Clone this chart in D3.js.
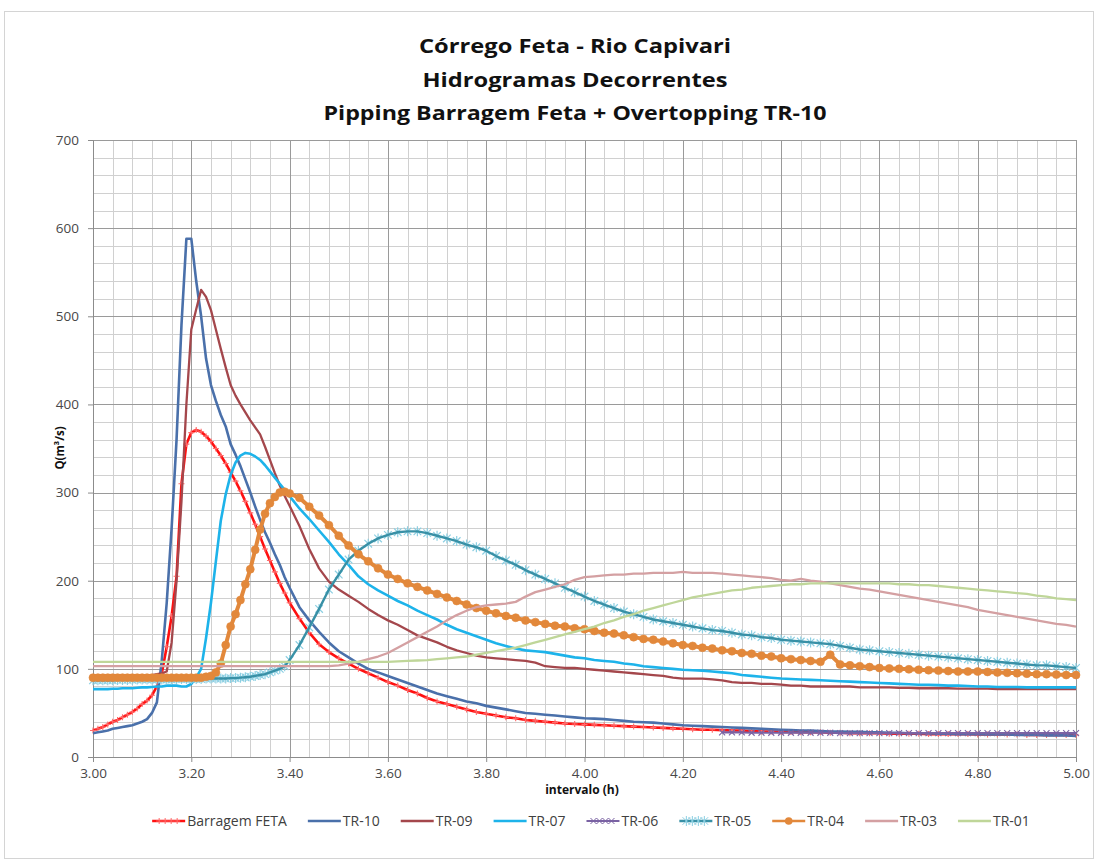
<!DOCTYPE html>
<html><head><meta charset="utf-8">
<script src="https://cdn.jsdelivr.net/npm/d3@7"></script>
<style>body{margin:0;background:#fff}svg{display:block}</style>
</head><body>
<svg id="c" width="1098" height="863"></svg>
<script>
// ---------------- DATA ----------------
const times = [3.00,
3.01,3.02,3.03,3.04,3.05,3.06,3.07,3.08,3.09,3.10,
3.11,3.12,3.13,3.14,3.15,3.16,3.17,3.18,3.19,3.20,
3.21,3.22,3.23,3.24,3.25,3.26,3.27,3.28,3.29,3.30,
3.31,3.32,3.33,3.34,3.35,3.36,3.37,3.38,3.39,3.40,
3.42,3.44,3.46,3.48,3.50,3.52,3.54,3.56,3.58,3.60,
3.62,3.64,3.66,3.68,3.70,3.72,3.74,3.76,3.78,3.80,
3.82,3.84,3.86,3.88,3.90,3.92,3.94,3.96,3.98,4.00,
4.02,4.04,4.06,4.08,4.10,4.12,4.14,4.16,4.18,4.20,
4.22,4.24,4.26,4.28,4.30,4.32,4.34,4.36,4.38,4.40,
4.42,4.44,4.46,4.48,4.50,4.52,4.54,4.56,4.58,4.60,
4.62,4.64,4.66,4.68,4.70,4.72,4.74,4.76,4.78,4.80,
4.82,4.84,4.86,4.88,4.90,4.92,4.94,4.96,4.98,5.00];

const barragemFETA = [30,
32,34,37,40,42,45,48,51,55,60,
64,70,80,95,125,160,205,310,355,368,
371,369,364,358,350,342,333,323,313,302,
290,277,264,250,236,223,210,197,186,175,
157,141,128,119,112,106,100,95,90,85,
81,76,72,67,63,60,57,54,51,49,
47,45,44,42,41,40,39,38,37.5,37,
36.5,36,35.5,35,34.5,34,33.5,33,32.5,32,
31.5,31,31,30.5,30,30,29.5,29,29,28.5,
28.5,28,28,28,27.5,27.5,27,27,27,27,
26.5,26.5,26.5,26.5,26,26,26,26,26,25.5,
25.5,25.5,25.5,25.5,25,25,25,25,25,25];

const tr10 = [27,
28,29,30,32,33,34,35,36,38,40,
43,50,62,110,175,260,360,490,588,588,
540,500,452,422,404,388,375,355,343,330,
315,300,284,269,255,243,230,218,204,192,
170,155,142,130,120,113,106,100,96,92,
88,84,80,76,72,69,66,63,61,58,
56,54,52,50,49,48,47,46,45,44,
43.5,43,42,41,40,39.5,39,38,37,36,
35.5,35,34.5,34,33.5,33,32.5,32,31.5,31,
30.5,30,30,29.5,29,29,28.5,28.5,28,28,
27.5,27.5,27,27,27,26.5,26.5,26,26,26,
25.5,25.5,25.5,25,25,25,24.5,24.5,24.5,24];

const tr09 = [93,
93,93,93,93,93,93,93,93,93,93,
93,93,94,95,97,130,200,290,400,485,
508,530,522,507,485,463,442,422,410,400,
391,382,374,366,352,337,322,308,296,285,
262,236,214,199,190,183,176,168,161,155,
150,144,138,134,130,125,121,118,115,113,
112,111,110,109,107,103,102,101,101,100,
99,98,97,96,95,94,93,92,90,89,
89,89,88,87,85,84,84,83,83,82,
81,81,80,80,80,80,80,79,79,79,
79,78.5,78.5,78,78,78,78,77.5,77.5,77.5,
77.5,77,77,77,77,77,77,77,77,77];

const tr07 = [77,
77,77,77,77.5,77.5,78,78,78,78.5,79,
79,79.5,80,80,81,81,81,80,80,83,
90,100,135,175,222,268,298,320,334,342,
345,344,341,337,331,324,317,310,303,296,
282,270,257,244,230,218,205,196,189,183,
177,172,166,161,156,150,145,141,137,133,
129,126,123,121,120,119,117,115,113,112,
110,109,108,106,105,103,102,101,100,99,
98.5,98,97,96,95,93,92,91,90,89,
88.5,88,87.5,87,86.5,86,85.5,85,84.5,84,
83.5,83,82.5,82,82,81.5,81,81,80.5,80,
80,79.5,79.5,79.5,79,79,79,79,79,79];

const tr06 = [28,28,28,27.5,27.5,27.5,27.5,
27.5,27.5,27.5,27.5,27.5,27,27,27,27,27,
27,27,27,27,27,27,27,27,27,27,
27,27,27,27,27,27,27,27,27,27];
const tr06FirstTime = 4.28;

const tr05 = [87,
87,87,87,87,87.5,87.5,87.5,87.5,88,88,
88,88,88,88,88,88,88.5,88.5,88.5,88.5,
88.5,88.5,89,89,89,89,89,89.5,89.5,90,
90.5,91,92,93,94,96,98,100,103,110,
127,147,168,190,207,224,234,242,248,252,
255,256,256,254,251,248,245,241,238,234,
228,223,218,212,207,202,197,192,187,182,
177,173,169,165,162,159,156,154,152,150,
148,146,144,143,141,139,138,136,135,133,
132,131,130,129,128,126,124,122,121,120,
119,118,117,116,115,114,113,112,111,110,
109,108,107,106,105,104,104,103,102,101];

const tr04 = [90,
90,90,90,90,90,90,90,90,90,90,
90,90,90,90,90,90,90,90,90,90,
90,90,91,92,96,106,127,148,162,178,
196,213,235,258,276,288,295,300,301,299,
294,284,274,263,251,240,230,222,214,207,
202,197,193,189,185,181,177,173,169,166,
163,160,158,155,153,151,149,148,146,145,
143,141,140,138,136,134,133,131,129,127,
126,124,123,121,120,118,117,115,114,112,
111,110,109,108,116,105,104,103,102,101,
100.5,100,99.5,99,98.5,98,97.5,97,97,97,
96.5,96,95.5,95,94.5,94,94,93.5,93,93];

const tr03 = [103,
103,103,103,103,103,103,103,103,103,103,
103,103,103,103,103,103,103,103,103,103,
103,103,103,103,103,103,103,103,103,103,
103,103,103,103,103,103,103,103,103,103,
103,103,103,103,104,106,108,111,114,118,
124,130,136,142,148,155,161,166,170,172,
173,174,176,182,187,190,193,196,201,204,
205,206,207,207,208,208,209,209,209,210,
209,209,209,208,207,206,205,204,203,201,
200,202,200,199,197,195,193,191,190,188,
186,184,182,180,178,176,174,172,170,167,
165,163,161,159,157,155,153,151,150,148];

const tr01 = [108,
108,108,108,108,108,108,108,108,108,108,
108,108,108,108,108,108,108,108,108,108,
108,108,108,108,108,108,108,108,108,108,
108,108,108,108,108,108,108,108,108,108,
108,108,108,108,108,108,108,108,108,108,
108.5,109,109.5,110,111,112,113,114,116,118,
120,122,124,127,130,133,136,139,142,145,
148,152,155,159,162,166,169,172,175,178,
181,183,185,187,189,190,192,193,194,195,
196,196,197,197,197,197,197,197,197,197,
197,196,196,195,195,194,193,192,191,190,
189,188,187,186,185,183,182,180,179,178];

const seriesNames = ["Barragem FETA","TR-10","TR-09","TR-07","TR-06","TR-05","TR-04","TR-03","TR-01"];
const yTickValues = [0,100,200,300,400,500,600,700];
const xTickLabels = ["3.00","3.20","3.40","3.60","3.80","4.00","4.20","4.40","4.60","4.80","5.00"];
const titleLines = ["Córrego Feta - Rio Capivari","Hidrogramas  Decorrentes","Pipping Barragem Feta + Overtopping TR-10"];
const yAxisTitle = "Q(m³/s)";
const xAxisTitle = "intervalo (h)";

// ---------------- CHART ----------------
const FONT = "'Open Sans', 'Liberation Sans', sans-serif";
const svg = d3.select("#c");
svg.append("rect").attr("x",4.5).attr("y",11.5).attr("width",1089).attr("height",847)
  .attr("fill","#fff").attr("stroke","#d4d4d4");

const X0 = 93, X1 = 1076, Y0 = 757, Y1 = 140;
const x = d3.scaleLinear().domain([3,5]).range([X0,X1]);
const y = d3.scaleLinear().domain([0,700]).range([Y0,Y1]);

// grid
const g = svg.append("g");
const minorX = d3.range(0,51).map(i=>3+i*0.04);
const minorY = d3.range(0,36).map(i=>i*20);
g.selectAll(".mx").data(minorX.filter((d,i)=>i%5!==0)).join("line")
  .attr("x1",d=>Math.round(x(d))+0.5).attr("x2",d=>Math.round(x(d))+0.5)
  .attr("y1",Y1).attr("y2",Y0).attr("stroke","#d0d0d0");
g.selectAll(".my").data(minorY.filter((d,i)=>i%5!==0)).join("line")
  .attr("y1",d=>Math.round(y(d))+0.5).attr("y2",d=>Math.round(y(d))+0.5)
  .attr("x1",X0).attr("x2",X1).attr("stroke","#d0d0d0");
g.selectAll(".Mx").data(xTickLabels.map(Number)).join("line")
  .attr("x1",d=>Math.round(x(d))+0.5).attr("x2",d=>Math.round(x(d))+0.5)
  .attr("y1",Y1).attr("y2",Y0).attr("stroke","#9a9a9a");
g.selectAll(".My").data(yTickValues).join("line")
  .attr("y1",d=>Math.round(y(d))+0.5).attr("y2",d=>Math.round(y(d))+0.5)
  .attr("x1",X0).attr("x2",X1).attr("stroke","#9a9a9a");

// axes
const ax = svg.append("g").attr("transform",`translate(0,${Y0})`)
  .call(d3.axisBottom(x).tickValues(xTickLabels.map(Number)).tickFormat((d,i)=>xTickLabels[i]).tickSize(5).tickPadding(6));
const ay = svg.append("g").attr("transform",`translate(${X0},0)`)
  .call(d3.axisLeft(y).tickValues(yTickValues).tickFormat(d3.format("d")).tickSize(5).tickPadding(9));
[ax,ay].forEach(a=>{
  a.select(".domain").attr("stroke","#8c8c8c");
  a.selectAll(".tick line").attr("stroke","#8c8c8c");
  a.selectAll("text").attr("font-family",FONT).attr("font-size",13.5).attr("fill","#484848");
});

// clip
svg.append("clipPath").attr("id","clip").append("rect")
  .attr("x",X0-6).attr("y",Y1-6).attr("width",X1-X0+12).attr("height",Y0-Y1+10);

const tr06Times = times.filter(t=>t>=tr06FirstTime-1e-9);
const series = [
  {name:seriesNames[0], t:times, v:barragemFETA, color:"#ff1010", w:2.6, marker:"plus", mcolor:"#ff6b6b"},
  {name:seriesNames[1], t:times, v:tr10, color:"#4a70aa", w:2.6},
  {name:seriesNames[2], t:times, v:tr09, color:"#a4474c", w:2.3},
  {name:seriesNames[3], t:times, v:tr07, color:"#1db3ea", w:2.6},
  {name:seriesNames[4], t:tr06Times, v:tr06, color:"#7a62a3", w:2.2, marker:"x", mcolor:"#7a62a3"},
  {name:seriesNames[5], t:times, v:tr05, color:"#3890a6", w:2.4, marker:"star", mcolor:"#8ccfe2"},
  {name:seriesNames[6], t:times, v:tr04, color:"#e2883b", w:4, marker:"circle", mcolor:"#e2883b"},
  {name:seriesNames[7], t:times, v:tr03, color:"#d4a0a2", w:2.3},
  {name:seriesNames[8], t:times, v:tr01, color:"#bfd699", w:2.3}
];
const markerPath = {
  plus:"M-3,0H3M0,-3V3",
  x:"M-3,-3L3,3M-3,3L3,-3",
  star:"M-3.8,-3.8L3.8,3.8M-3.8,3.8L3.8,-3.8M0,-5V5"
};
const line = d3.line().x(d=>x(d[0])).y(d=>y(d[1]));
const plot = svg.append("g").attr("clip-path","url(#clip)");
function drawMarkers(sel, s, pts){
  if(!s.marker) return;
  if(s.marker==="circle"){
    sel.selectAll("circle").data(pts).join("circle")
      .attr("cx",d=>x(d[0])).attr("cy",d=>y(d[1])).attr("r",4)
      .attr("fill",s.mcolor).attr("stroke",s.mcolor).attr("stroke-width",0.6);
  } else {
    sel.selectAll("path.m").data(pts).join("path").attr("class","m")
      .attr("transform",d=>`translate(${x(d[0])},${y(d[1])})`)
      .attr("d",markerPath[s.marker]).attr("fill","none")
      .attr("stroke",s.mcolor).attr("stroke-width",s.marker==="star"?1.2:1.1);
  }
}
series.forEach(s=>{
  const pts = s.t.map((t,i)=>[t,s.v[i]]);
  const gs = plot.append("g");
  if(s.marker==="star"){
    drawMarkers(gs, s, pts);
    gs.append("path").datum(pts).attr("d",line).attr("fill","none")
      .attr("stroke",s.color).attr("stroke-width",s.w).attr("stroke-linejoin","round");
  } else {
    gs.append("path").datum(pts).attr("d",line).attr("fill","none")
      .attr("stroke",s.color).attr("stroke-width",s.w).attr("stroke-linejoin","round");
    drawMarkers(gs, s, pts);
  }
});

// titles
const tY = [53, 87, 120];
titleLines.forEach((txt,i)=>{
  const tEl = svg.append("text").attr("x",575).attr("y",tY[i]).attr("text-anchor","middle")
    .attr("font-family",FONT).attr("font-weight","bold").attr("font-size",20).attr("fill","#111").text(txt);
  const target = [312,305,503][i];
  tEl.attr("textLength",target).attr("lengthAdjust","spacingAndGlyphs");
});
svg.append("text").attr("transform",`translate(64,448) rotate(-90)`).attr("text-anchor","middle")
  .attr("font-family",FONT).attr("font-weight","bold").attr("font-size",11.5).attr("fill","#111").text(yAxisTitle);
svg.append("text").attr("x",582).attr("y",794).attr("text-anchor","middle")
  .attr("font-family",FONT).attr("font-weight","bold").attr("font-size",12).attr("fill","#111").text(xAxisTitle);

// legend
const leg = svg.append("g");
let lx = 0; const LY = 821; const GAP = 21;
series.forEach(s=>{
  const it = leg.append("g").attr("transform",`translate(${lx},${LY})`);
  it.append("line").attr("x1",0).attr("x2",33).attr("y1",0).attr("y2",0)
    .attr("stroke",s.color).attr("stroke-width",Math.min(s.w,2.6));
  const mpts = s.marker==="circle" ? [16.5] : (s.marker ? [7,13,19,25] : []);
  mpts.forEach(mx=>{
    if(s.marker==="circle") it.append("circle").attr("cx",mx).attr("cy",0).attr("r",3.8).attr("fill",s.mcolor);
    else it.append("path").attr("transform",`translate(${mx},0)`).attr("d",markerPath[s.marker])
      .attr("fill","none").attr("stroke",s.mcolor).attr("stroke-width",1);
  });
  const tx = it.append("text").attr("x",35).attr("y",5).attr("font-family",FONT)
    .attr("font-size",14).attr("fill","#404040").text(s.name);
  const w = tx.node().getComputedTextLength();
  lx += 35 + w + GAP;
});
const totalW = lx - GAP;
leg.attr("transform",`translate(${591 - totalW/2},0)`);
</script>
</body></html>
